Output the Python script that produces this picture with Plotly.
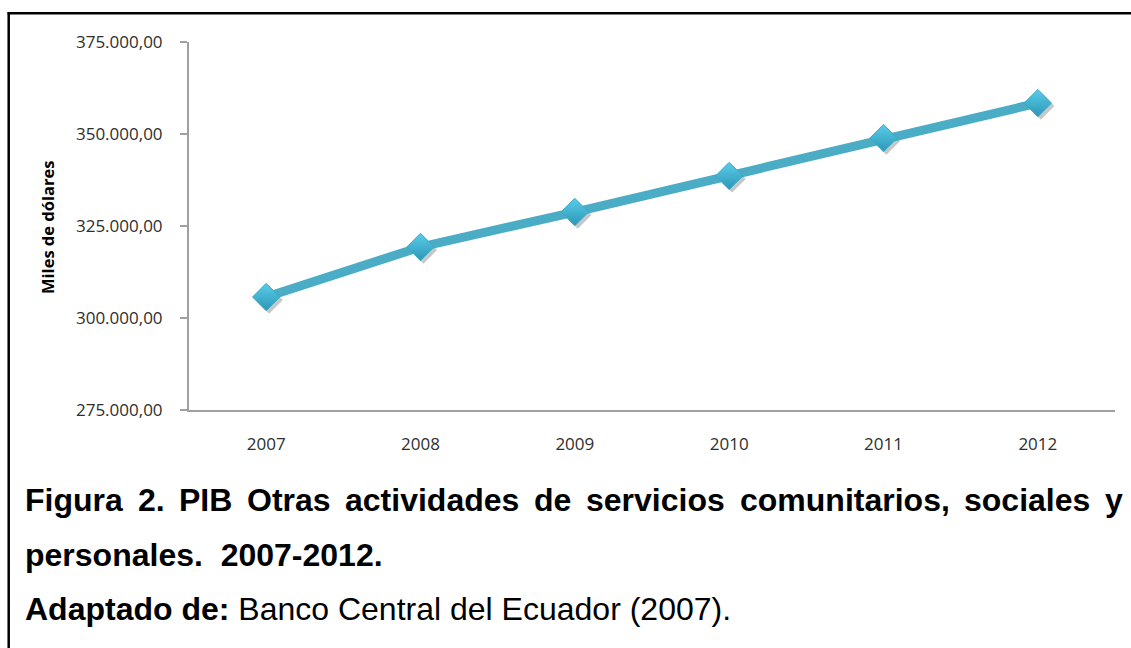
import plotly.graph_objects as go

# PIB: Otras actividades de servicios comunitarios, sociales y personales (miles de dólares)
years = ["2007", "2008", "2009", "2010", "2011", "2012"]
pib = [305700, 319300, 328800, 338600, 348900, 358400]

y_ticks = [275000, 300000, 325000, 350000, 375000]
y_range = [275000, 375000]

W, H = 1131, 648
L, R, T, B = 189, 13, 42, 235
PW = W - L - R          # paper width in px
PH = H - T - B          # paper height in px
SHIFT = 3               # marker shadow offset in px


def px_x(px):
    return (px - L) / PW


def px_y(py):
    return (H - B - py) / PH


line_color = "#4BACC6"
tick_font = dict(family="Open Sans, Liberation Sans, sans-serif", size=17, color="#2E2E2E")

fig = go.Figure()

# soft drop shadow under the diamonds (drawn on an offset, hidden pair of axes)
fig.add_trace(go.Scatter(
    x=years, y=pib, mode="markers", xaxis="x", yaxis="y",
    marker=dict(symbol="diamond", size=21, color="rgba(70,70,70,0.30)", line=dict(width=0)),
    hoverinfo="skip", showlegend=False,
))

# main series
fig.add_trace(go.Scatter(
    x=years, y=pib, mode="lines+markers", xaxis="x2", yaxis="y2",
    line=dict(color=line_color, width=9),
    marker=dict(symbol="diamond", size=21, color="#5ACDEB",
                gradient=dict(type="vertical", color="#2C96B5"),
                line=dict(color="#3AA8C6", width=1)),
    showlegend=False,
))

hidden = dict(visible=False, showgrid=False, zeroline=False, fixedrange=True)
fig.update_layout(
    width=W, height=H,
    margin=dict(l=L, r=R, t=T, b=B, pad=0),
    paper_bgcolor="white", plot_bgcolor="rgba(0,0,0,0)",
    separators=",.",
    xaxis=dict(domain=[SHIFT / PW, 1], type="category", range=[-0.5, 5.5], anchor="y", **hidden),
    yaxis=dict(domain=[0, 1 - SHIFT / PH], range=y_range, anchor="x", **hidden),
    xaxis2=dict(
        domain=[0, 1 - SHIFT / PW], type="category", range=[-0.5, 5.5], anchor="y2",
        showline=True, linecolor="#A0A0A0", linewidth=2, showgrid=False, zeroline=False,
        ticks="", tickfont=tick_font, ticklabelstandoff=18,
    ),
    yaxis2=dict(
        domain=[SHIFT / PH, 1], range=y_range, anchor="x2",
        tickvals=y_ticks, tickformat=",.2f",
        showline=True, linecolor="#A0A0A0", linewidth=2, showgrid=False, zeroline=False,
        ticks="outside", ticklen=7, tickcolor="#A0A0A0", tickwidth=2,
        tickfont=tick_font, ticklabelstandoff=14,
    ),
)

# frame: left and top rules
frame = dict(color="black", width=2.5)
fig.add_shape(type="line", xref="paper", yref="paper",
              x0=px_x(8.7), x1=px_x(8.7), y0=px_y(12.3), y1=px_y(H + 2), line=frame)
fig.add_shape(type="line", xref="paper", yref="paper",
              x0=px_x(7.5), x1=px_x(W + 2), y0=px_y(13.3), y1=px_y(13.3), line=frame)

# y-axis title
fig.add_annotation(
    text="<b>Miles de dólares</b>", xref="paper", yref="paper",
    x=px_x(47), y=px_y(228), textangle=-90, showarrow=False,
    xanchor="center", yanchor="middle",
    font=dict(family="Open Sans, Liberation Sans, sans-serif", size=16.5, color="black"),
)

# caption, first line justified word by word
cap_font = dict(family="Liberation Sans, Arial, sans-serif", size=32, color="black")
line1_words = ["Figura", "2.", "PIB", "Otras", "actividades", "de", "servicios",
               "comunitarios,", "sociales", "y"]
line1_x = [23, 135.5, 176.9, 244.9, 343.2, 532.2, 584.2, 737.7, 962.2, 1103.2]
for word, xpos in zip(line1_words, line1_x):
    fig.add_annotation(text=f"<b>{word}</b>", xref="paper", yref="paper",
                       x=px_x(xpos), y=px_y(500), xanchor="left", yanchor="middle",
                       showarrow=False, font=cap_font)

fig.add_annotation(text="<b>personales.  2007-2012.</b>", xref="paper", yref="paper",
                   x=px_x(23), y=px_y(555), xanchor="left", yanchor="middle",
                   showarrow=False, font=cap_font)
fig.add_annotation(text="<b>Adaptado de:</b> Banco Central del Ecuador (2007).",
                   xref="paper", yref="paper",
                   x=px_x(23), y=px_y(609), xanchor="left", yanchor="middle",
                   showarrow=False, font=cap_font)

fig.write_html("out.html")
